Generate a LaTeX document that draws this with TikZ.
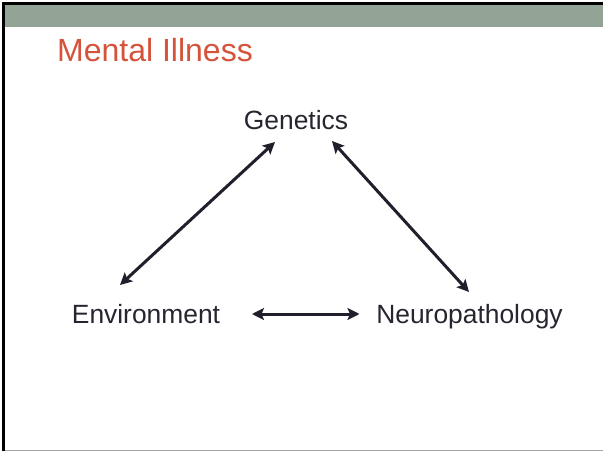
\documentclass[tikz,border=0pt]{standalone}
\usepackage{fontspec}
\setmainfont{Liberation Sans}
\usetikzlibrary{arrows.meta}
\definecolor{barcol}{HTML}{93A497}
\definecolor{titlecol}{HTML}{D5533A}
\definecolor{inkcol}{HTML}{262630}
\definecolor{arrowcol}{HTML}{20202C}
\tikzset{
  label/.style={inner sep=0pt, anchor=base, text=inkcol,
    font=\fontsize{26.4}{30}\selectfont},
  link/.style={draw=arrowcol, line width=3pt,
    {Stealth[length=12pt,width=12pt,inset=2.5pt]}-{Stealth[length=12pt,width=12pt,inset=2.5pt]}}
}
\begin{document}
\begin{tikzpicture}[x=1pt,y=-1pt]
  \useasboundingbox (0,0) rectangle (603,452);
  % slide frame and header bar
  \fill[white] (0,0) rectangle (603,452);
  \fill[barcol] (5,5) rectangle (603,27);
  \fill[black] (2,2) rectangle (5,451);
  \fill[black] (2,2) rectangle (603,5);
  \fill[gray!70] (5,449.5) rectangle (603,450.6);
  % title
  \node[inner sep=0pt, anchor=base west, text=titlecol,
        font=\fontsize{32}{38}\selectfont] (title) at (57,62) {Mental Illness};
  % the three factors
  \node[label] (gen) at (296,129) {Genetics};
  \node[label] (env) at (146,323) {Environment};
  \node[label] (neu) at (469.5,323) {Neuropathology};
  % two-way links
  \draw[link] ([shift={(-21,13)}]gen.base) -- ([shift={(-26,-38)}]env.base);
  \draw[link] ([shift={(36,12)}]gen.base) -- ([shift={(-0.5,-31)}]neu.base);
  \draw[link] ([shift={(106,-9)}]env.base) -- ([shift={(-110,-9)}]neu.base);
\end{tikzpicture}
\end{document}
